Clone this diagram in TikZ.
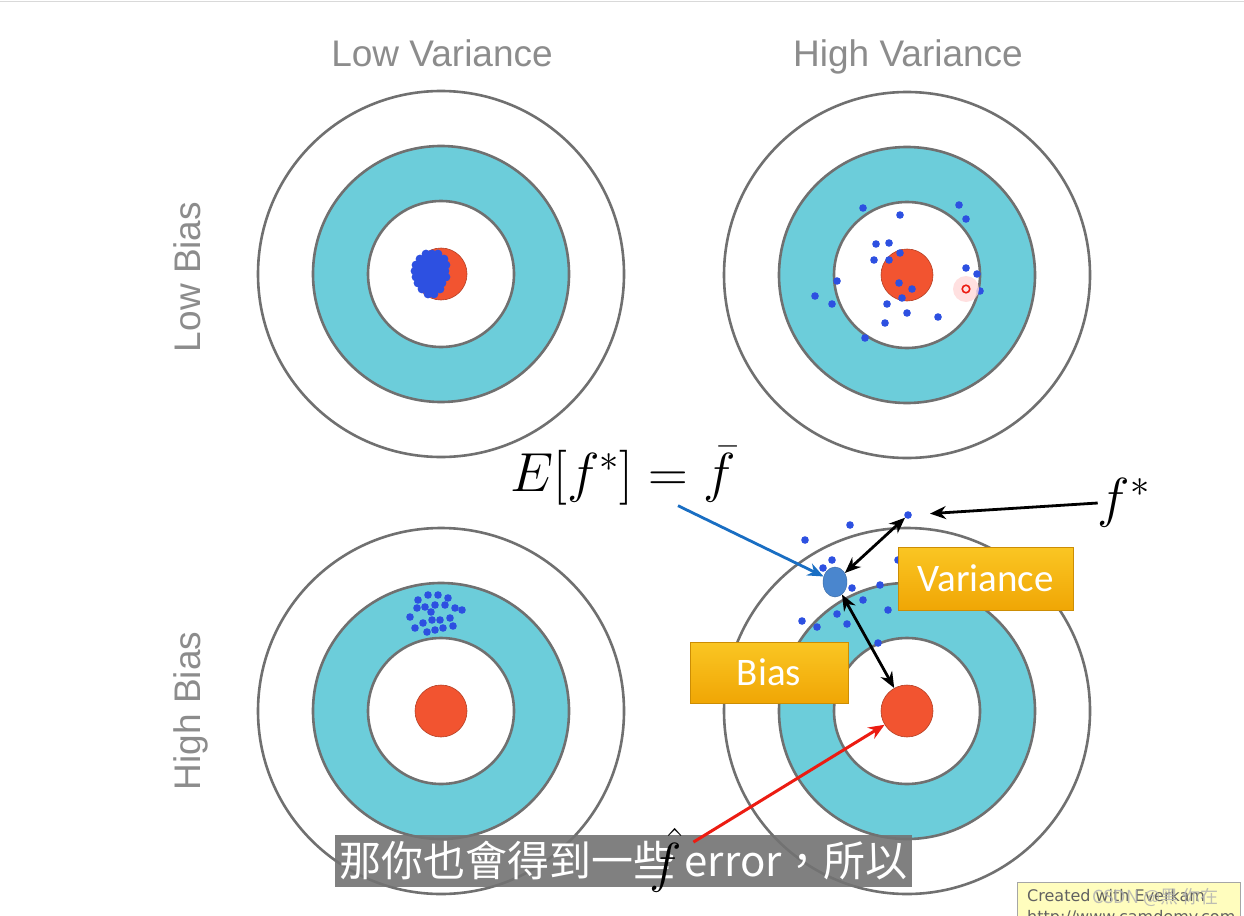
\RequirePackage{fix-cm}
\documentclass[tikz,border=0pt]{standalone}
\usepackage{fontspec}
\usepackage{xcolor}
\usepackage{tikz}
\usetikzlibrary{arrows.meta, positioning, shapes.geometric, calc}

\newfontfamily\helv{Liberation Sans}
\newfontfamily\calib{Carlito}
\newfontfamily\cjk{Noto Sans CJK TC}
\newfontfamily\deja{DejaVu Sans}

\definecolor{cyanring}{RGB}{108,205,218}
\definecolor{rouge}{RGB}{242,84,48}
\definecolor{rougevif}{RGB}{236,28,18}
\definecolor{tirbleu}{RGB}{45,80,225}
\definecolor{moyen}{RGB}{74,134,206}
\definecolor{anneaugris}{RGB}{112,112,112}
\definecolor{orhaut}{RGB}{250,198,35}
\definecolor{orbas}{RGB}{240,166,5}
\definecolor{flechebleue}{RGB}{25,110,195}
\definecolor{postit}{RGB}{255,253,190}

\begin{document}
\begin{tikzpicture}[
  x=1pt, y=-1pt,
  anneau/.style={draw=anneaugris, line width=2.6pt},
  centre/.style={circle, fill=rouge, draw=rouge!75!black, line width=0.6pt,
    minimum size=52pt, inner sep=0pt},
  titre/.style={font=\helv\fontsize{37}{37}\selectfont, text=black!45, anchor=base},
  etiquette/.style={
    rectangle, top color=orhaut, bottom color=orbas,
    draw=orbas!85!black, line width=0.6pt, inner sep=0pt,
    font=\calib\fontsize{39}{39}\selectfont, text=white
  },
  maths/.style={font=\fontsize{55}{55}\selectfont, inner sep=0pt},
  pointe/.style={-{Stealth[length=16pt, width=13pt]}, line width=2.8pt},
  allerretour/.style={{Stealth[length=16pt, width=13pt]}-{Stealth[length=16pt, width=13pt]},
    line width=2.8pt},
  bandeau/.style={
    fill=black!55, fill opacity=0.9, text opacity=1, text=white,
    font=\cjk\fontsize{42}{42}\selectfont, inner sep=0pt,
    minimum width=577pt, minimum height=52pt
  }
]

\useasboundingbox (0,0) rectangle (1244,915);
\fill[white] (0,0) rectangle (1244,915);
\draw[black!15, line width=1.5pt] (0,1.5) -- (1244,1.5);

% --- 1. Cibles ---
\foreach \nom/\cx/\cy in {hg/441/274, hd/907/275, bg/441/711, bd/907/711} {
  \begin{scope}[shift={(\cx,\cy)}]
    \draw[anneau, fill=white] (0,0) circle[radius=183pt];
    \draw[anneau, fill=cyanring] (0,0) circle[radius=128pt];
    \draw[anneau, fill=white] (0,0) circle[radius=73pt];
    \node[centre] (c\nom) at (0,0) {};
  \end{scope}
}

% --- 2. Titres ---
\node[titre] (lowvar) at (442,67) {Low Variance};
\node[titre] (highvar) at (908,67) {High Variance};
\node[titre, rotate=90] (lowbias) at (200,277) {Low Bias};
\node[titre, rotate=90] (highbias) at (200,711) {High Bias};

% --- 3. Tirs ---
% faible biais, faible variance : un amas serre
\foreach \y/\xs in {254/{426,432,438}, 259/{420,426,432,438,444},
                    265/{416,422,428,434,440,446}, 271/{415,421,427,433,439,445},
                    277/{416,422,428,434,440,446}, 283/{418,424,430,436,442},
                    289/{422,428,434,440}, 294/{428,434}}
  \foreach \x in \xs
    \fill[tirbleu] (\x,\y) circle[radius=4.4pt];

% faible biais, forte variance
\foreach \x/\y in {
  863/208, 900/215, 959/205, 966/219, 876/244, 889/243, 874/260, 889/260,
  900/253, 837/281, 815/296, 832/304, 899/283, 912/289, 902/298, 887/304,
  907/313, 885/323, 938/317, 865/338, 966/268, 977/274, 980/291
}
  \fill[tirbleu] (\x,\y) circle[radius=3.8pt];
\fill[red!15, opacity=0.8] (966,289) circle[radius=13pt];
\draw[rougevif, line width=1.6pt] (966,289) circle[radius=3.8pt];

% fort biais, faible variance
\foreach \x/\y in {
  418/600, 428/595, 438/595, 448/598, 410/617, 417/608, 425/607, 435/605,
  445/605, 455/608, 462/610, 415/628, 423/623, 432/620, 440/620, 450/618,
  453/626, 427/632, 435/630, 443/628, 431/612
}
  \fill[tirbleu] (\x,\y) circle[radius=3.8pt];

% fort biais, forte variance
\foreach \x/\y in {
  850/525, 805/540, 832/560, 823/568, 898/560, 852/588, 880/585, 863/600,
  888/610, 837/614, 847/624, 802/621, 817/627, 878/643
}
  \fill[tirbleu] (\x,\y) circle[radius=3.8pt];
\node[circle, fill=tirbleu, inner sep=0pt, minimum size=7.6pt] (fstar) at (908,515) {};
\node[ellipse, fill=moyen, draw=moyen!80!black, line width=0.4pt, inner sep=0pt,
  minimum width=24pt, minimum height=30pt] (fbar) at (835,582) {};

% --- 4. Etiquettes ---
\node[etiquette, minimum width=175pt, minimum height=63pt] (variance) at (985.5,578.5) {Variance};
\node[etiquette, minimum width=158pt, minimum height=61pt] (bias) at (769,672.5) {Bias};

\node[maths] (esp) at (623,476) {$E[f^*] = \bar{f}$};
\node[maths] (fstarlab) at (1124,503) {$f^*$};

% Fleches
\draw[pointe, flechebleue] ([xshift=55pt]esp.south) -- (fbar);
\draw[pointe, shorten >=18pt] (fstarlab.west) -- (fstar);
\draw[allerretour] (fstar) -- (fbar);
\draw[allerretour] (fbar) -- (cbd);

% --- 5. Sous-titre ---
\node[bandeau] (soustitre) at (623.5,861) {那你也會得到一些 error，所以};
\node[maths] (fhat) at (666,860) {$\hat{f}$};
\draw[pointe, rougevif, line width=3pt] ([shift={(11pt,-14pt)}]fhat.north east) -- (cbd);

% --- 6. Filigrane ---
\node[draw=black!35, fill=postit, line width=0.8pt, anchor=north west,
  minimum width=223pt, minimum height=44pt, inner sep=0pt] (cadre) at (1017,882) {};
\node[font=\deja\fontsize{16}{21}\selectfont, text=black!62, align=left,
  anchor=north west, inner sep=0pt] (marque) at (1027,889)
  {Created with Everkam\\http://www.camdemy.com};
\node[font=\cjk\fontsize{18}{18}\selectfont, text=black!30, opacity=0.85,
  anchor=west, inner sep=0pt] (csdn) at (1092,897) {CSDN @黑 你在};

\end{tikzpicture}
\end{document}
